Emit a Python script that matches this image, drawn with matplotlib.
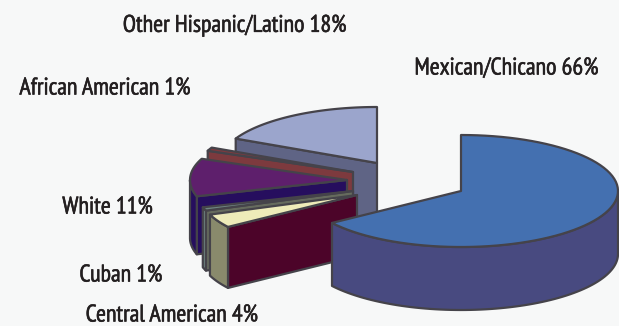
import matplotlib
matplotlib.use("Agg")
import matplotlib.pyplot as plt
from matplotlib.patches import Polygon
import matplotlib.patheffects as pe
import numpy as np

# share of students by group, clockwise from 12 o'clock
groups = ["Mexican/Chicano", "Central American", "Cuban", "White", "African American", "Other Hispanic/Latino"]
percents = [66, 4, 1, 11, 1, 18]

top_colors = ["#4470b0", "#eeebb9", "#6f8582", "#5e1f6c", "#7d3a3e", "#9ba5cc"]
wall_colors = ["#484a80", "#4c0429", "#666b5e", "#260e5e", "#7d3a3e", "#5f6485"]
rim_colors = ["#484a80", "#898a6c", "#6f8582", "#260e5e", "#7d3a3e", "#5f6485"]

# where each exploded slice has its tip, in pixels
tips = [(461, 191), (357, 195), (353, 191), (347, 180), (353, 172), (377, 163)]
depths = [63, 61, 60, 58, 60, 64]
RX, RY = 157, 56
EDGE = "#45434a"
BG = "#f7f8f8"

# z order: back slices first, Mexican/Chicano in front
draw_order = [5, 4, 3, 2, 1, 0]

label_pos = [(506.5, 69), (172, 316), (121, 276), (107.5, 208), (105, 89), (234.5, 26)]


def arc(tip, start, end, drop=0):
    th = np.radians(np.linspace(start, end, 80))
    return np.column_stack([tip[0] + RX * np.cos(th), tip[1] - RY * np.sin(th) + drop])


def poly(ax, pts, color):
    ax.add_patch(Polygon(pts, closed=True, facecolor=color, edgecolor=EDGE, linewidth=1.6, joinstyle="round"))


fig = plt.figure(figsize=(6.19, 3.26), dpi=100, facecolor=BG)
ax = fig.add_axes([0, 0, 1, 1])
ax.set_xlim(0, 619)
ax.set_ylim(326, 0)
ax.axis("off")

# slice angles, running clockwise from the top
shares = np.array(percents) / sum(percents) * 360
ends = 90 - np.cumsum(shares)
starts = ends + shares

for i in draw_order:
    tip = tips[i]
    d = depths[i]
    a, b = starts[i], ends[i]

    # cut face along the starting edge, only seen on the left hand slices
    if i != 0:
        edge = arc(tip, a, a, 0)[0]
        poly(ax, [tip, edge, (edge[0], edge[1] + d), (tip[0], tip[1] + d)], wall_colors[i])

    # outer wall, only the part on the front half of the ellipse
    lo, hi = max(b, -180), min(a, 0)
    if i == 0:
        lo, hi = b, 0
    if hi > lo:
        upper = arc(tip, hi, lo)
        lower = arc(tip, lo, hi, d)
        poly(ax, np.vstack([upper, lower]), rim_colors[i])

    poly(ax, np.vstack([[tip], arc(tip, a, b)]), top_colors[i])

# thin stroke to thicken the narrow face a little
heavy = [pe.withStroke(linewidth=0.4, foreground="#231f20")]
for name, pct, (x, y) in zip(groups, percents, label_pos):
    ax.text(x, y, f"{name} {pct}%", ha="center", va="center", fontsize=17.3, color="#231f20",
            family=["PT Sans Narrow", "Liberation Sans"], path_effects=heavy)

fig.savefig("out.png", dpi=100, facecolor=BG)
